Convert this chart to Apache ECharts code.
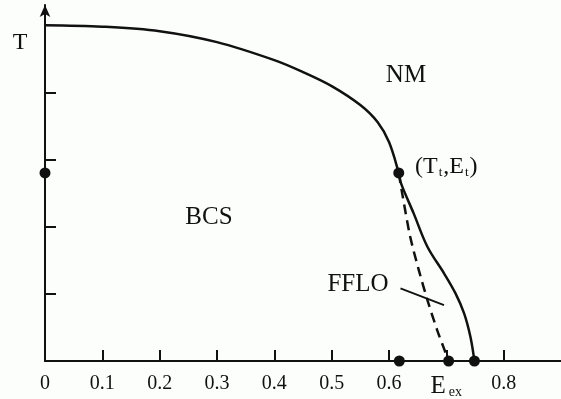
<!DOCTYPE html>
<html>
<head>
<meta charset="utf-8">
<script src="https://cdn.jsdelivr.net/npm/echarts@6/dist/echarts.min.js"></script>
<style>html,body{margin:0;padding:0;background:#fcfefc;}#c{width:561px;height:399px;}</style>
</head>
<body>
<div id="c"></div>
<script>
// Data
var upperBoundary = [[0,5.0],[0.1,4.978],[0.2,4.91],[0.3,4.747],[0.4,4.479],[0.45,4.301],[0.5,4.092],[0.55,3.81],[0.58,3.557],[0.6,3.259],[0.617,2.8],[0.621,2.644],[0.643,2.198],[0.667,1.701],[0.696,1.305],[0.716,1.007],[0.731,0.71],[0.742,0.362],[0.749,0]];
var ffloBoundary = [[0.617,2.8],[0.623,2.496],[0.637,1.85],[0.652,1.354],[0.667,0.908],[0.684,0.461],[0.699,0.115],[0.704,0]];
var ffloPointer = [[0.620,1.082],[0.696,0.833]];
var markedPoints = [[0,2.8],[0.617,2.8],[0.618,0],[0.704,0],[0.749,0]];
var xTickValues = [0,0.1,0.2,0.3,0.4,0.5,0.6,0.7,0.8];
var xTickLabels = ['0','0.1','0.2','0.3','0.4','0.5','0.6','{e|E}{s|ex}','0.8'];
var yTickValues = [1,2,3,4];

var serif = '"Liberation Serif","DejaVu Serif",serif';
var ink = '#111';
var chart = echarts.init(document.getElementById('c'), null, {renderer:'canvas'});
chart.setOption({
  backgroundColor: '#fcfefc',
  animation: false,
  grid: {left: 45, right: 0, top: 5, bottom: 38, containLabel: false},
  xAxis: {
    type: 'value', min: 0, max: 0.9,
    axisLine: {show: true, lineStyle: {color: ink, width: 2}},
    axisTick: {show: true, inside: true, length: 11, lineStyle: {color: ink, width: 2}, customValues: xTickValues.slice(1)},
    axisLabel: {
      show: true, margin: 13, color: ink, fontFamily: serif, fontSize: 20,
      customValues: xTickValues,
      formatter: function (v) {
        for (var i = 0; i < xTickValues.length; i++) {
          if (Math.abs(xTickValues[i] - v) < 1e-6) return xTickLabels[i];
        }
        return '';
      },
      rich: {
        e: {fontFamily: serif, fontSize: 25, color: ink, verticalAlign: 'bottom'},
        s: {fontFamily: serif, fontSize: 14, color: ink, verticalAlign: 'bottom', padding: [0,0,0,3]}
      }
    },
    splitLine: {show: false}
  },
  yAxis: {
    type: 'value', min: 0, max: 5.3,
    axisLine: {show: true, symbol: ['none','arrow'], symbolSize: [8,12], lineStyle: {color: ink, width: 2}},
    axisTick: {show: true, inside: true, length: 11, lineStyle: {color: ink, width: 2}, customValues: yTickValues},
    axisLabel: {show: false},
    splitLine: {show: false}
  },
  series: [
    {type: 'line', data: upperBoundary, smooth: 0.35, symbol: 'none', lineStyle: {color: ink, width: 2.5}, z: 3},
    {type: 'line', data: ffloBoundary, smooth: 0.3, symbol: 'none', lineStyle: {color: ink, width: 2.5, type: [10,6]}, z: 3},
    {type: 'line', data: ffloPointer, symbol: 'none', lineStyle: {color: ink, width: 1.8}, z: 3},
    {type: 'scatter', data: markedPoints, symbol: 'circle', symbolSize: 11, itemStyle: {color: ink, opacity: 1}, z: 5, clip: false}
  ],
  graphic: [
    {type: 'text', x: 20, y: 43, style: {text: 'T', font: '24px ' + serif, fill: ink, align: 'center', verticalAlign: 'middle'}},
    {type: 'text', x: 406, y: 75, style: {text: 'NM', font: '25px ' + serif, fill: ink, align: 'center', verticalAlign: 'middle'}},
    {type: 'text', x: 209, y: 217, style: {text: 'BCS', font: '25px ' + serif, fill: ink, align: 'center', verticalAlign: 'middle'}},
    {type: 'text', x: 358, y: 284, style: {text: 'FFLO', font: '25px ' + serif, fill: ink, align: 'center', verticalAlign: 'middle'}},
    {type: 'text', x: 415, y: 167, style: {
      text: '{m|(T}{s|t}{m|,E}{s|t}{m|)}', align: 'left', verticalAlign: 'middle',
      rich: {
        m: {fontFamily: serif, fontSize: 24, fill: ink, verticalAlign: 'bottom'},
        s: {fontFamily: serif, fontSize: 13, fill: ink, verticalAlign: 'bottom', padding: [0,1,0,1]}
      }
    }}
  ]
});
</script>
</body>
</html>
